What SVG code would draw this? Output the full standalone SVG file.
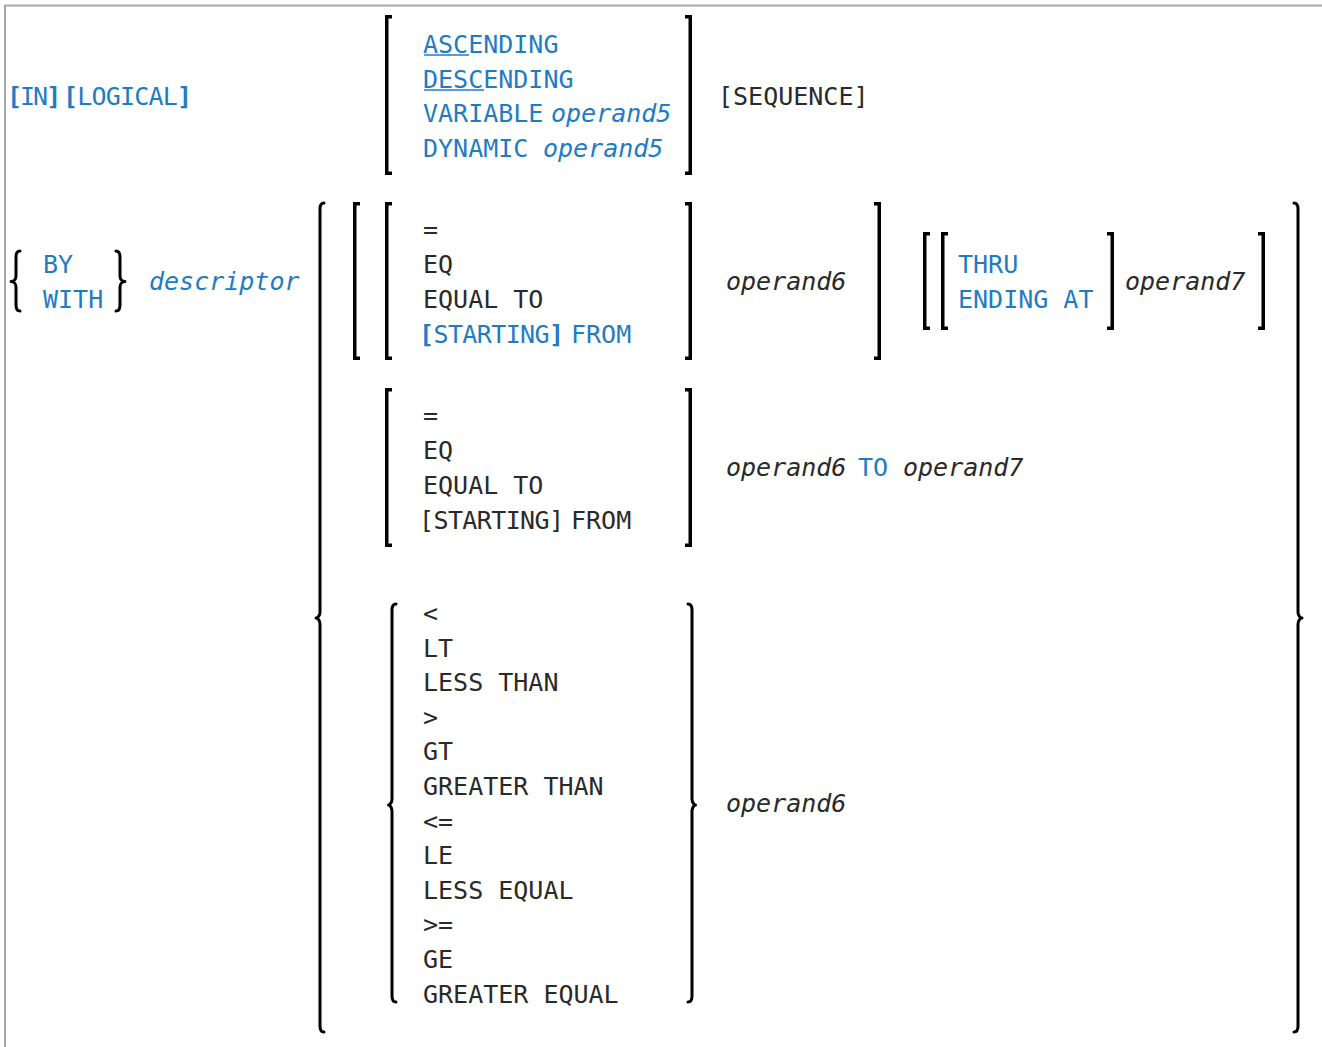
<svg xmlns="http://www.w3.org/2000/svg" width="1322" height="1047" viewBox="0 0 1322 1047">
<style>
text{font-family:"DejaVu Sans Mono","Liberation Mono",monospace;font-size:25px;}
.k{fill:#1f7cc4;}
.t{fill:#2a2a2a;}
.i{font-style:italic;}
.b{font-weight:bold;}
.br{fill:none;stroke:#000;stroke-width:3.5;stroke-linejoin:miter;stroke-linecap:butt;}
.cb{fill:none;stroke:#000;stroke-width:3;stroke-linejoin:round;stroke-linecap:round;}
.ul{stroke:#1f7cc4;stroke-width:1.6;}
.frame{stroke:#a8a8a8;stroke-width:2;fill:none;}
</style>
<rect width="1322" height="1047" fill="#fff"/>
<path class="frame" d="M4,5.5 H1322 M5,4.5 V1047"/>

<g id="order">
  <text class="k" x="7" y="105" style="letter-spacing:-2px"><tspan class="b">[</tspan>IN<tspan class="b">]</tspan></text>
  <text class="k" x="63" y="105" textLength="129" lengthAdjust="spacing"><tspan class="b">[</tspan>LOGICAL<tspan class="b">]</tspan></text>
</g>

<g id="sequence-options">
  <text class="k" x="423" y="53">ASCENDING</text>
  <line class="ul" x1="424" y1="55" x2="469" y2="55"/>
  <text class="k" x="423" y="88">DESCENDING</text>
  <line class="ul" x1="424" y1="90" x2="484" y2="90"/>
  <text class="k" x="423" y="122">VARIABLE</text>
  <text class="k i" x="551" y="122">operand5</text>
  <text class="k" x="423" y="157">DYNAMIC</text>
  <text class="k i" x="543" y="157">operand5</text>
</g>

<g id="sequence">
  <text class="t" x="718" y="105">[SEQUENCE]</text>
</g>

<g id="by-with">
  <text class="k" x="43" y="273">BY</text>
  <text class="k" x="43" y="308">WITH</text>
  <text class="k i" x="149" y="290">descriptor</text>
</g>

<g id="group1">
  <text class="t" x="423" y="238">=</text>
  <text class="t" x="423" y="273">EQ</text>
  <text class="t" x="423" y="308">EQUAL TO</text>
  <text class="k" x="419" y="343" textLength="145" lengthAdjust="spacing"><tspan class="b">[</tspan>STARTING<tspan class="b">]</tspan></text>
  <text class="k" x="571" y="343">FROM</text>
  <text class="t i" x="726" y="290">operand6</text>
  <text class="k" x="958" y="273">THRU</text>
  <text class="k" x="958" y="308">ENDING AT</text>
  <text class="t i" x="1125" y="290">operand7</text>
</g>

<g id="group2">
  <text class="t" x="423" y="424">=</text>
  <text class="t" x="423" y="459">EQ</text>
  <text class="t" x="423" y="494">EQUAL TO</text>
  <text class="t" x="419" y="529" textLength="145" lengthAdjust="spacing">[STARTING]</text>
  <text class="t" x="571" y="529">FROM</text>
  <text class="t i" x="726" y="476">operand6</text>
  <text class="k" x="858" y="476">TO</text>
  <text class="t i" x="903" y="476">operand7</text>
</g>

<g id="group3">
  <text class="t" x="423" y="622">&lt;</text>
  <text class="t" x="423" y="656.5">LT</text>
  <text class="t" x="423" y="691">LESS THAN</text>
  <text class="t" x="423" y="725.7">&gt;</text>
  <text class="t" x="423" y="760.3">GT</text>
  <text class="t" x="423" y="795">GREATER THAN</text>
  <text class="t" x="423" y="829.5">&lt;=</text>
  <text class="t" x="423" y="864">LE</text>
  <text class="t" x="423" y="898.7">LESS EQUAL</text>
  <text class="t" x="423" y="933.3">&gt;=</text>
  <text class="t" x="423" y="968">GE</text>
  <text class="t" x="423" y="1002.5">GREATER EQUAL</text>
  <text class="t i" x="726" y="812">operand6</text>
</g>

<g id="connectors">
  <path class="br" d="M392,16.75 H386.75 V173.25 H392"/>
  <path class="br" d="M685,16.75 H690.25 V173.25 H685"/>
  <path class="br" d="M360,203.75 H354.75 V358.25 H360"/>
  <path class="br" d="M392,203.75 H386.75 V358.25 H392"/>
  <path class="br" d="M685,203.75 H690.25 V358.25 H685"/>
  <path class="br" d="M874,203.75 H879.25 V358.25 H874"/>
  <path class="br" d="M930,233.75 H924.75 V328.25 H930"/>
  <path class="br" d="M948,233.75 H942.75 V328.25 H948"/>
  <path class="br" d="M1107,233.75 H1112.25 V328.25 H1107"/>
  <path class="br" d="M1258,233.75 H1263.25 V328.25 H1258"/>
  <path class="br" d="M392,389.75 H386.75 V545.25 H392"/>
  <path class="br" d="M685,389.75 H690.25 V545.25 H685"/>
  <path class="cb" d="M20,251 C17,251 16,253 16,257 V276 C16,279 14,281.5 11,281.5 C14,281.5 16,284 16,287 V305 C16,309 17,311 20,311"/>
  <path class="cb" d="M116,251 C119,251 120,253 120,257 V276 C120,279 122,281.5 125,281.5 C122,281.5 120,284 120,287 V305 C120,309 119,311 116,311"/>
  <path class="cb" d="M324,203 C321,203 320,205 320,209 V612 C320,615 318,618 316,618 C318,618 320,621 320,624 V1026 C320,1030 321,1032 324,1032"/>
  <path class="cb" d="M1294,203 C1297,203 1298,205 1298,209 V612 C1298,615 1300,618 1302,618 C1300,618 1298,621 1298,624 V1026 C1298,1030 1297,1032 1294,1032"/>
  <path class="cb" d="M396,604 C393,604 392,606 392,610 V799 C392,802 390,805 388.5,805 C390,805 392,808 392,811 V996 C392,1000 393,1002 396,1002"/>
  <path class="cb" d="M688,604 C691,604 692,606 692,610 V799 C692,802 694,805 695.5,805 C694,805 692,808 692,811 V996 C692,1000 691,1002 688,1002"/>
</g>
</svg>
